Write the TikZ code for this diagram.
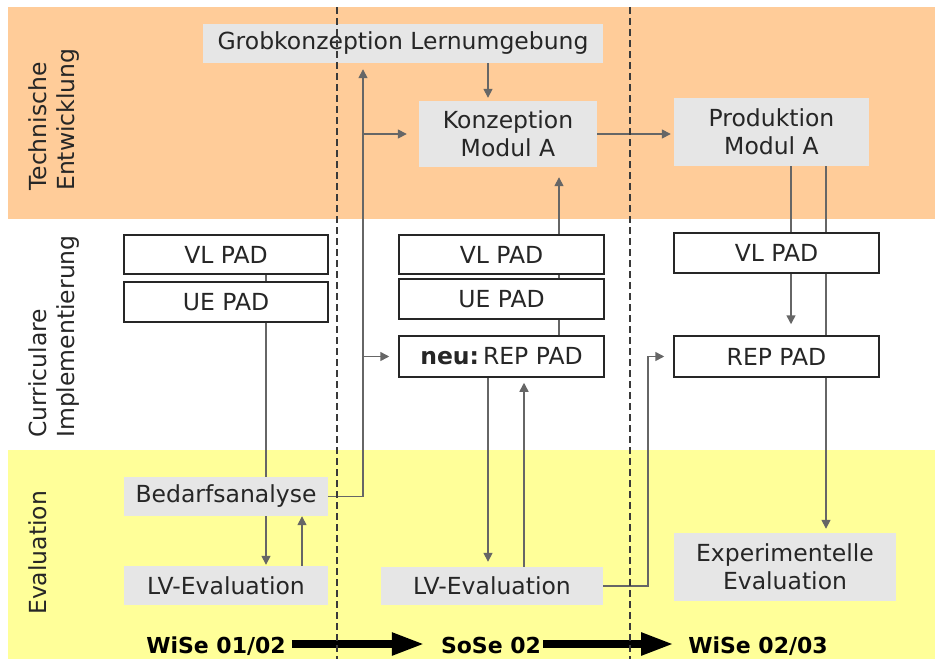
\documentclass[tikz,border=0pt]{standalone}
\usepackage{fontspec}
\setmainfont{DejaVu Sans}
\usetikzlibrary{arrows.meta}
\definecolor{bandorange}{HTML}{FFCC99}
\definecolor{bandyellow}{HTML}{FFFF99}
\definecolor{boxgray}{HTML}{E6E6E6}
\definecolor{linegray}{HTML}{666666}
\definecolor{txt}{HTML}{262626}
\definecolor{dashgray}{HTML}{3A3A3A}
\pgfdeclarelayer{bands}
\pgfdeclarelayer{links}
\pgfsetlayers{bands,links,main}
\begin{document}
\begin{tikzpicture}[x=1pt,y=-1pt,
  every node/.style={font=\fontsize{23.5}{28}\selectfont, text=txt, inner sep=0pt},
  gbox/.style={fill=boxgray},
  wbox/.style={fill=white, draw=txt, line width=1.5pt},
  plain/.style={draw=linegray, line width=1.5pt},
  conn/.style={draw=linegray, line width=1.5pt, -{Triangle[length=9pt,width=9pt]}},
  side/.style={rotate=90, anchor=north west, align=left},
  term/.style={font=\fontsize{22}{26}\selectfont\bfseries, text=black, anchor=base},
  bigarrow/.style={draw=black, line width=8pt, -{Triangle[length=33pt,width=21pt]}}]
\useasboundingbox (0,0) rectangle (935,659);
\begin{pgfonlayer}{bands}
  \fill[bandorange] (8,7) rectangle (935,219);
  \fill[bandyellow] (8,450) rectangle (935,659);
\end{pgfonlayer}

% side labels
\node[side] (lt) at (28,191) {Technische\\Entwicklung};
\node[side] (lc) at (28,438) {Curriculare\\Implementierung};
\node[side] (le) at (28,615) {Evaluation};

% boxes
\node[gbox, minimum width=400pt, minimum height=39pt] (grob) at (403,43.5) {Grobkonzeption Lernumgebung};
\node[gbox, minimum width=178pt, minimum height=66pt, align=center] (konz) at (508,134) {Konzeption\\Modul A};
\node[gbox, minimum width=195pt, minimum height=68pt, align=center] (prod) at (771.5,132) {Produktion\\Modul A};
\node[wbox, minimum width=204pt, minimum height=39pt] (vla) at (226,254.5) {VL PAD};
\node[wbox, minimum width=204pt, minimum height=40pt] (uea) at (226,302) {UE PAD};
\node[wbox, minimum width=205pt, minimum height=39pt] (vlb) at (501.5,254.5) {VL PAD};
\node[wbox, minimum width=205pt, minimum height=40pt] (ueb) at (501.5,299) {UE PAD};
\node[wbox, minimum width=205pt, minimum height=41pt] (repb) at (501.5,356.5) {\textbf{neu:}\,REP PAD};
\node[wbox, minimum width=205pt, minimum height=40pt] (vlc) at (776.5,253) {VL PAD};
\node[wbox, minimum width=205pt, minimum height=41pt] (repc) at (776.5,356.5) {REP PAD};
\node[gbox, minimum width=204pt, minimum height=39pt] (bed) at (226,496.5) {Bedarfsanalyse};
\node[gbox, minimum width=204pt, minimum height=39pt] (lva) at (226,585.5) {LV-Evaluation};
\node[gbox, minimum width=222pt, minimum height=38pt] (lvb) at (492,586) {LV-Evaluation};
\node[gbox, minimum width=222pt, minimum height=68pt, align=center] (exp) at (785,567) {Experimentelle\\Evaluation};

% timeline
\node[term] (t1) at (216,653) {WiSe 01/02};
\node[term] (t2) at (491,653) {SoSe 02};
\node[term] (t3) at (758,653) {WiSe 02/03};
\coordinate (tl) at (0,644);

% connector columns
\coordinate (xa) at (266,0);
\coordinate (xb) at (302,0);
\coordinate (xc) at (363,0);
\coordinate (xd) at (488,0);
\coordinate (xe) at (559,0);
\coordinate (xf) at (524,0);
\coordinate (xg) at (648,0);
\coordinate (xh) at (791,0);
\coordinate (xi) at (826,0);

\begin{pgfonlayer}{links}
  \draw[plain] (vla.south -| xa) -- (uea.north -| xa);
  \draw[plain] (uea.south -| xa) -- (bed.north -| xa);
  \draw[conn, shorten >=1pt] (bed.south -| xa) -- (lva.north -| xa);
  \draw[conn] (lva.north -| xb) -- (bed.south -| xb);
  \draw[conn, shorten >=6pt] (bed.east) -- (bed.east -| xc) -- (grob.south -| xc);
  \draw[conn, shorten >=12pt] (konz.west -| xc) -- (konz.west);
  \draw[conn, shorten >=9pt] (repb.west -| xc) -- (repb.west);
  \draw[conn, shorten >=3pt] (grob.south -| xd) -- (konz.north -| xd);
  \draw[conn, shorten >=3pt] (konz.east) -- (konz.east -| prod.west);
  \draw[conn, shorten >=10pt] (repb.north -| xe) -- (konz.south -| xe);
  \draw[conn, shorten >=5pt] (repb.south -| xd) -- (lvb.north -| xd);
  \draw[conn, shorten >=5pt] (lvb.north -| xf) -- (repb.south -| xf);
  \draw[conn, shorten >=9pt] (lvb.east) -- (lvb.east -| xg) -- (repc.west -| xg) -- (repc.west);
  \draw[conn, shorten >=11pt] (prod.south -| xh) -- (repc.north -| xh);
  \draw[conn, shorten >=4pt] (prod.south -| xi) -- (exp.north -| xi);
\end{pgfonlayer}

\draw[bigarrow, shorten <=6pt, shorten >=16pt] (t1.east |- tl) -- (t2.west |- tl);
\draw[bigarrow, shorten <=2pt, shorten >=14pt] (t2.east |- tl) -- (t3.west |- tl);

% semester separators
\draw[dashgray, dash pattern=on 7pt off 4pt, line width=1.3pt] (337,7) -- (337,659);
\draw[dashgray, dash pattern=on 7pt off 4pt, line width=1.3pt] (630,7) -- (630,659);
\end{tikzpicture}
\end{document}
